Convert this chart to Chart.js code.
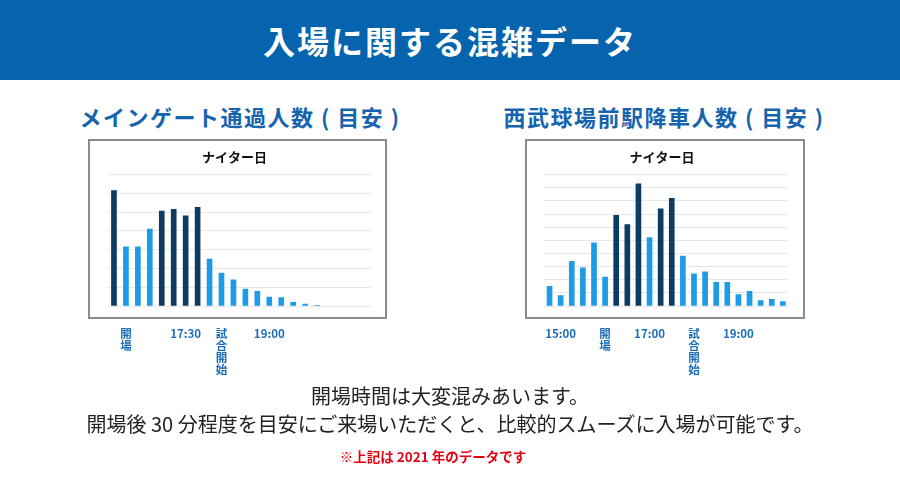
<!DOCTYPE html>
<html lang="ja">
<head>
<meta charset="utf-8">
<title>入場に関する混雑データ</title>
<script src="https://cdn.jsdelivr.net/npm/chart.js@4.4.1/dist/chart.umd.min.js"></script>
<style>
  html, body { margin: 0; padding: 0; background: #fff; }
  body { width: 900px; height: 480px; position: relative; overflow: hidden;
         font-family: "Noto Sans CJK JP", "Noto Sans", sans-serif; }
  .header { position: absolute; left: 0; top: 0; width: 900px; height: 80px; background: #0564ad;
            color: #fff; font-size: 32px; font-weight: bold; letter-spacing: 2px;
            line-height: 80px; text-align: center; }
  .sub { position: absolute; top: 100px; width: 420px; text-align: center; color: #1764ae;
         font-size: 22px; font-weight: bold; letter-spacing: 1.5px; line-height: 32px; }
  .box { position: absolute; border: 2px solid #8c8c8c; box-sizing: border-box; }
  .wrap { position: absolute; }
  .note { position: absolute; left: 0; width: 900px; text-align: center; color: #222;
          font-size: 20px; line-height: 28px; }
  .red { position: absolute; left: -17px; width: 900px; text-align: center; color: #e60012;
         font-size: 13.5px; font-weight: bold; line-height: 18px; }
</style>
</head>
<body>
<div class="header">入場に関する混雑データ</div>

<div class="sub" style="left:30px">メインゲート通過人数 ( 目安 )</div>
<div class="sub" style="left:454px">西武球場前駅降車人数 ( 目安 )</div>

<div class="box" style="left:88px; top:139px; width:299px; height:180px"></div>
<div class="box" style="left:525px; top:139px; width:280px; height:180px"></div>

<div class="wrap" style="left:88px; top:139px; width:299px; height:250px"><canvas id="gateChart"></canvas></div>
<div class="wrap" style="left:525px; top:139px; width:280px; height:250px"><canvas id="stationChart"></canvas></div>

<div class="note" style="top:382px">開場時間は大変混みあいます。</div>
<div class="note" style="top:410px">開場後 30 分程度を目安にご来場いただくと、比較的スムーズに入場が可能です。</div>
<div class="red" style="top:447px">※上記は 2021 年のデータです</div>

<script>
// ── data (relative values in gridline units) ──
const chartTitle = 'ナイター日';

// メインゲート: 22 slots, last four empty
const gateTicks = ['', '開場', '', '', '', '', '17:30', '', '', '試合開始', '', '',
                   '', '19:00', '', '', '', '', '', '', '', ''];
const gateValues = [6.15, 3.15, 3.15, 4.1, 5.05, 5.15, 4.8, 5.25, 2.5, 1.75, 1.4,
                    0.9, 0.78, 0.48, 0.45, 0.2, 0.1, 0.04, null, null, null, null];
const gatePeak = [0, 4, 5, 6, 7];   // dark bars
const gateMax = 7;

// 西武球場前駅: 22 slots, 15-minute steps
const stationTicks = ['', '15:00', '', '', '', '開場', '', '', '', '17:00', '', '',
                      '', '試合開始', '', '', '', '19:00', '', '', '', ''];
const stationValues = [1.5, 0.8, 3.4, 2.9, 4.8, 2.2, 6.9, 6.2, 9.3, 5.2, 7.4,
                       8.2, 3.8, 2.45, 2.6, 1.8, 1.8, 0.87, 1.12, 0.42, 0.5, 0.33];
const stationPeak = [6, 7, 8, 10, 11];
const stationMax = 10;

const DARK = '#0c3c62';
const LIGHT = '#1d9be6';
const LABEL = '#1b6db7';
const GRID = '#e8e8e8';
const FONT = '"Noto Sans CJK JP", "Noto Sans", sans-serif';

function barColors(values, peak) {
    return values.map(function (v, i) { return peak.indexOf(i) >= 0 ? DARK : LIGHT; });
}

// Japanese labels are set vertically, times horizontally
function tickText(label) {
    if (!label) return '';
    if (/\d/.test(label)) return label;
    return label.split('');
}

function makeChart(id, ticks, values, peak, maxVal, yWidth) {
    const ctx = document.getElementById(id).getContext('2d');
    return new Chart(ctx, {
        type: 'bar',
        data: {
            labels: ticks,
            datasets: [{
                data: values,
                backgroundColor: barColors(values, peak),
                barThickness: 5,
                borderWidth: 0,
            }],
        },
        options: {
            responsive: true,
            maintainAspectRatio: false,
            animation: false,
            layout: { padding: { left: 0, right: 6, top: 0, bottom: 0 } },
            plugins: {
                legend: { display: false },
                tooltip: { enabled: false },
                title: {
                    display: true,
                    text: chartTitle,
                    color: '#111',
                    font: { family: FONT, size: 13, weight: 'bold', lineHeight: 1.2 },
                    padding: { top: 10, bottom: 10 },
                },
            },
            scales: {
                x: {
                    grid: { display: false, drawTicks: false },
                    border: { display: false },
                    afterFit: function (scale) { scale.height = 83; },
                    ticks: {
                        autoSkip: false,
                        maxRotation: 0,
                        minRotation: 0,
                        padding: 22,
                        color: LABEL,
                        font: { family: FONT, size: 11.5, weight: 'bold', lineHeight: '12px' },
                        callback: function (value, index) { return tickText(ticks[index]); },
                    },
                },
                y: {
                    min: 0,
                    max: maxVal,
                    afterFit: function (scale) { scale.width = yWidth; },
                    grid: { color: GRID, drawTicks: false },
                    border: { display: false },
                    ticks: { display: false, stepSize: 1 },
                },
            },
        },
    });
}

makeChart('gateChart', gateTicks, gateValues, gatePeak, gateMax, 20);
makeChart('stationChart', stationTicks, stationValues, stationPeak, stationMax, 19);
</script>
</body>
</html>
